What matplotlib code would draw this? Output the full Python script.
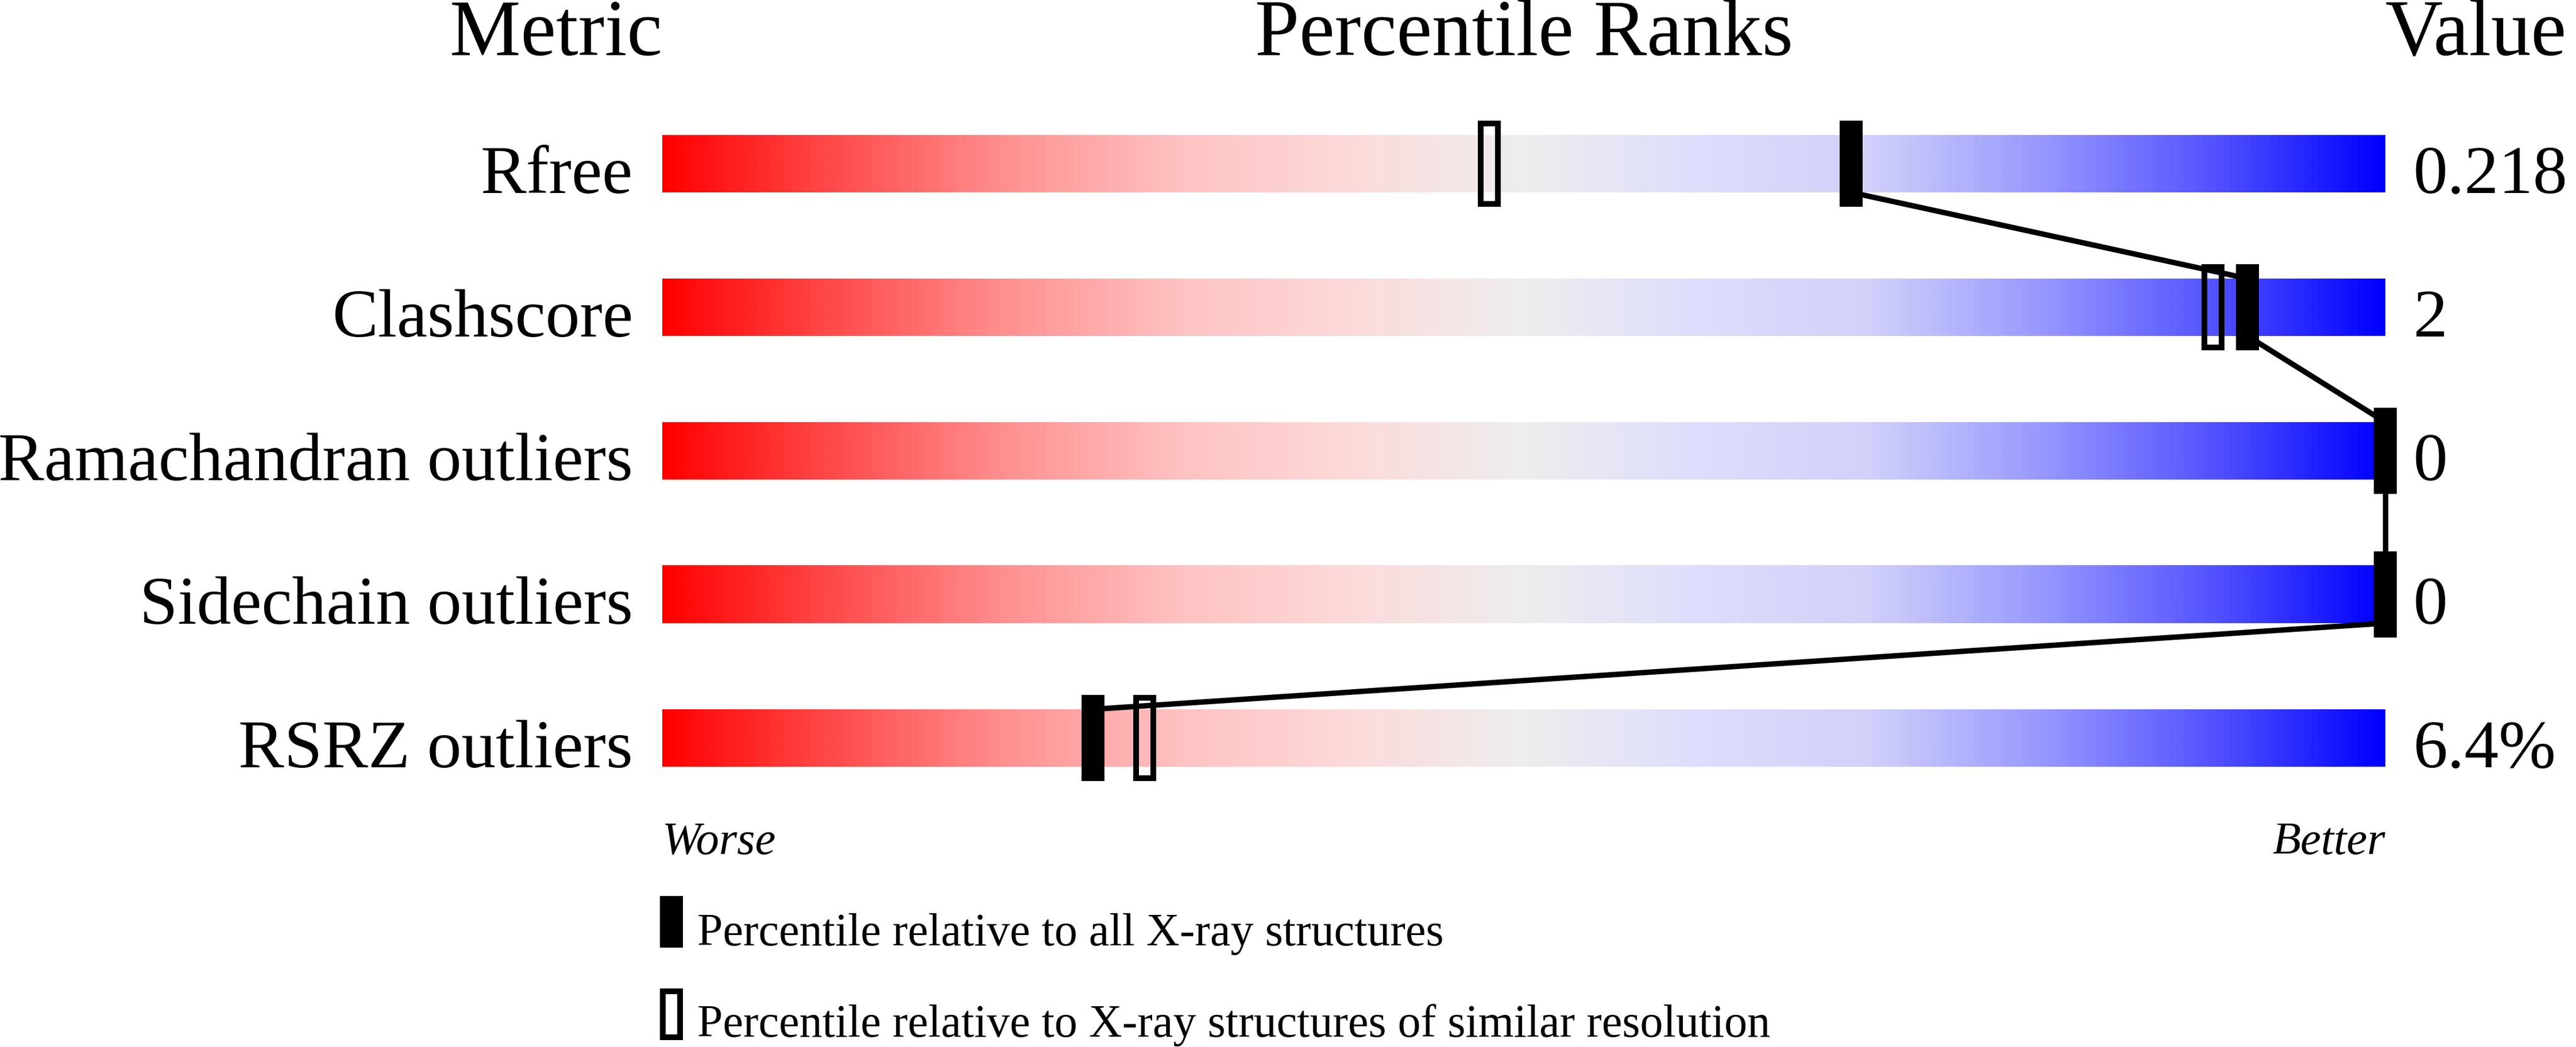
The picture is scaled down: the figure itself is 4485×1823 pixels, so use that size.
import numpy as np
import matplotlib
matplotlib.use('Agg')
import matplotlib.pyplot as plt
from matplotlib.colors import LinearSegmentedColormap
from matplotlib.patches import Rectangle

metrics = ['Rfree', 'Clashscore', 'Ramachandran outliers', 'Sidechain outliers', 'RSRZ outliers']
values = ['0.218', '2', '0', '0', '6.4%']
pct_all = [69, 92, 100, 100, 25]       # percentile relative to all X-ray structures
pct_similar = [48, 90, 100, 100, 28]   # percentile relative to similar resolution

plt.rcParams['font.family'] = ['Liberation Serif', 'DejaVu Serif']

# red -> pale -> grey -> lavender -> blue
cmap = LinearSegmentedColormap.from_list('slider', [
    (0.0, (1.0, 0.0, 0.0)),
    (0.1, (1.0, 0.30, 0.30)),
    (0.2, (1.0, 0.57, 0.57)),
    (0.3, (1.0, 0.76, 0.76)),
    (0.4, (0.99, 0.855, 0.855)),
    (0.5, (0.933, 0.933, 0.933)),
    (0.6, (0.867, 0.867, 0.99)),
    (0.7, (0.82, 0.82, 0.98)),
    (0.8, (0.60, 0.60, 1.0)),
    (0.9, (0.33, 0.33, 1.0)),
    (1.0, (0.0, 0.0, 1.0)),
])

W, H = 4485, 1824
fig = plt.figure(figsize=(W / 100, H / 100), dpi=100)
ax = fig.add_axes([0, 0, 1, 1])
ax.axis('off')

# 1 percentile = 30 px, bar starts at 1153 px; one row = 250 px, first row centre at 286 px
px = 30.0
py = 250.0
x0 = 1153
y0 = 286

bar_h = 100 / py
mk_h = 150 / py
mk_w = 40 / px

grad = np.linspace(0, 1, 1500).reshape(1, -1)
n = len(metrics)
for i in range(n):
    ax.imshow(grad, cmap=cmap, aspect='auto', interpolation='bilinear',
              extent=[0, 100, i + bar_h / 2, i - bar_h / 2], zorder=1)

# open markers (outline 10 px, drawn inside the 40x150 box)
ex = 5 / px
ey = 5 / py
for i, p in enumerate(pct_similar):
    ax.add_patch(Rectangle((p - mk_w / 2 + ex, i - mk_h / 2 + ey), mk_w - 2 * ex, mk_h - 2 * ey,
                           facecolor='none', edgecolor='black', lw=7.2, zorder=2))

# connecting line between filled markers
for i in range(n - 1):
    ax.plot([pct_all[i], pct_all[i + 1]], [i + bar_h / 2, i + 1 - bar_h / 2],
            color='black', lw=6.8, solid_capstyle='butt', zorder=3)

# filled markers
for i, p in enumerate(pct_all):
    ax.add_patch(Rectangle((p - mk_w / 2, i - mk_h / 2), mk_w, mk_h,
                           facecolor='black', edgecolor='none', zorder=4))

ax.set_xlim(-x0 / px, (W - x0) / px)
ax.set_ylim((H - y0) / py, -y0 / py)

# headers
hy = (96 - y0) / py
ax.text(0, hy, 'Metric', ha='right', va='baseline', fontsize=100)
ax.text(50, hy, 'Percentile Ranks', ha='center', va='baseline', fontsize=100)
ax.text(100, hy, 'Value', ha='left', va='baseline', fontsize=100)

for i in range(n):
    ax.text(-51 / px, i + bar_h / 2, metrics[i], ha='right', va='baseline', fontsize=86)
    ax.text(100 + 49 / px, i + bar_h / 2, values[i], ha='left', va='baseline', fontsize=86)

wy = (1487 - y0) / py
ax.text(0, wy, 'Worse', ha='left', va='baseline', fontsize=58, style='italic')
ax.text(100, wy, 'Better', ha='right', va='baseline', fontsize=58, style='italic')

# legend
lx = (1168.5 - x0) / px
l1 = (1606 - y0) / py
l2 = (1766.5 - y0) / py
lh = 90 / py
ax.add_patch(Rectangle((lx - mk_w / 2, l1 - lh / 2), mk_w, lh, facecolor='black', edgecolor='none'))
ax.add_patch(Rectangle((lx - mk_w / 2 + ex, l2 - lh / 2 + ey), mk_w - 2 * ex, lh - 2 * ey,
                       facecolor='none', edgecolor='black', lw=7.2))
tx = (1214 - x0) / px
ax.text(tx, (1646 - y0) / py, 'Percentile relative to all X-ray structures',
        ha='left', va='baseline', fontsize=57.6)
ax.text(tx, (1805 - y0) / py, 'Percentile relative to X-ray structures of similar resolution',
        ha='left', va='baseline', fontsize=57.6)

fig.savefig('out.png', dpi=100)
